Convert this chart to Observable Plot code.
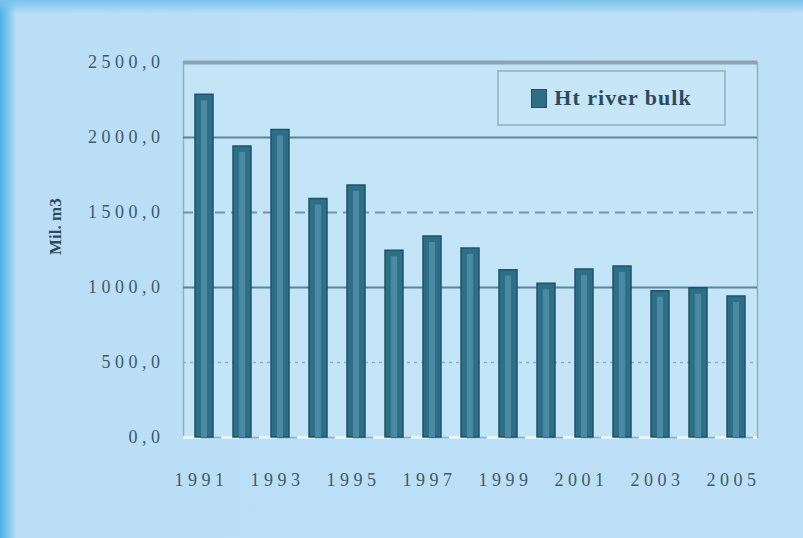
<!DOCTYPE html>
<html>
<head>
<meta charset="utf-8">
<script src="https://cdn.jsdelivr.net/npm/d3@7"></script>
<script src="https://cdn.jsdelivr.net/npm/@observablehq/plot@0.6"></script>
<style>
  html, body { margin:0; padding:0; }
  body { width:803px; height:538px; overflow:hidden; position:relative;
    background: linear-gradient(90deg, #4eaee6 0px, #86c9f0 9px, #b9def6 16px, #bde0f6 100%); }
  #top { position:absolute; left:0; top:0; width:803px; height:14px;
    background: linear-gradient(180deg, #78c2ee, rgba(185,222,246,0)); }
  #chart { position:absolute; left:0; top:0; }
  #chart g[aria-label="y-axis tick label"] text,
  #chart g[aria-label="x-axis tick label"] text { letter-spacing:4.5px; }
  #legend { position:absolute; left:497px; top:70px; width:229px; height:56px; box-sizing:border-box;
    border:2px solid #9fbccb; background:#c6e5f7; font-family:"Liberation Serif", serif; font-weight:bold;
    font-size:22px; letter-spacing:1px; color:#2c4a5c; display:flex; align-items:center; justify-content:center; gap:7px; }
  #legend .sw { width:14px; height:17px; background:#2f6e87; border:1px solid #1e5068; }
</style>
</head>
<body>
<div id="top"></div>
<div id="chart"></div>
<div id="legend"><span class="sw"></span><span id="legendText"></span></div>
<script>
const years = [1991,1992,1993,1994,1995,1996,1997,1998,1999,2000,2001,2002,2003,2004,2005];
const values = [2285,1940,2050,1590,1680,1245,1340,1260,1115,1025,1120,1140,975,995,940];
const yTicks = [0,500,1000,1500,2000,2500];
const xLabelYears = [1991,1993,1995,1997,1999,2001,2003,2005];
const seriesName = "Ht river bulk";
const yTitle = "Mil. m3";

document.getElementById("legendText").textContent = seriesName;
const data = years.map((y,i)=>({year:y, value:values[i]}));

const plot = Plot.plot({
  width:803, height:538,
  marginLeft:183, marginRight:46, marginTop:62, marginBottom:101,
  style:{background:"transparent", fontFamily:"'Liberation Serif', serif", fontSize:"18px", color:"#3b5566"},
  x:{type:"band", domain:years, paddingInner:0.53, paddingOuter:0.26, label:null},
  y:{domain:[0,2500], label:null},
  marks:[
    Plot.frame({fill:"#c4e4f7", stroke:"#8fb0c2", strokeWidth:1.5}),
    Plot.ruleY(yTicks.filter(d=>d===2000||d===1000), {stroke:"#5d8597", strokeWidth:2}),
    Plot.ruleY(yTicks.filter(d=>d===1500), {stroke:"#6f95a6", strokeWidth:2, strokeDasharray:"10,6"}),
    Plot.ruleY(yTicks.filter(d=>d===500), {stroke:"#8eaebc", strokeWidth:1.5, strokeDasharray:"3,4"}),
    Plot.ruleY(yTicks.filter(d=>d===2500), {stroke:"#8aa4b2", strokeWidth:4}),
    Plot.ruleY(yTicks.filter(d=>d===0), {stroke:"#e8f4fb", strokeWidth:3, strokeDasharray:"18,20"}),
    Plot.barY(data, {x:"year", y:"value", fill:"#2f6e87", stroke:"#1d536b", strokeWidth:1.5}),
    Plot.barY(data, {x:"year", y:"value", fill:"#4b8aa3", insetLeft:6, insetRight:6, insetTop:6}),
    Plot.axisY({ticks:yTicks, tickSize:0, tickPadding:19, fontSize:18, tickFormat:d=>d3.format(".1f")(d).replace(".",","), fill:"#3e5a6a"}),
    Plot.axisX({ticks:xLabelYears, tickSize:0, tickPadding:36, dx:-3, fontSize:18, tickFormat:d=>String(d), fill:"#3e5a6a"}),
    Plot.text([yTitle], {frameAnchor:"left", dx:-128, dy:5, rotate:-90, fontWeight:"bold", fontSize:17, fill:"#2f4a5a"})
  ]
});
document.getElementById("chart").appendChild(plot);
</script>
</body>
</html>
